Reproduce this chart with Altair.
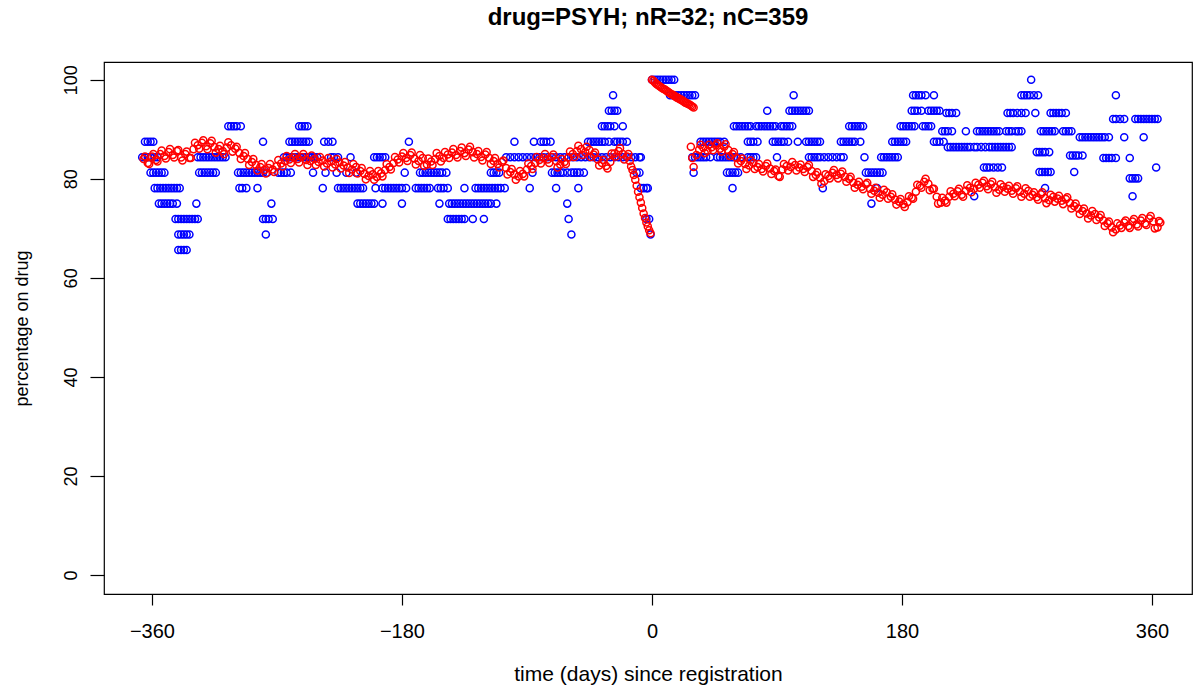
import altair as alt
import pandas as pd

TITLE = "drug=PSYH; nR=32; nC=359"
X_TITLE = "time (days) since registration"
Y_TITLE = "percentage on drug"
X_TICKS = [-360, -180, 0, 180, 360]
Y_TICKS = [0, 20, 40, 60, 80, 100]

# ---- blue series (nR): days at which each percentage level is observed ----
b100 = [0, 2, 4, 6, 8, 10, 12, 14, 16, 273]
b96_9 = [-28, 13, 15, 17, 19, 21, 23, 25, 27, 29, 31, 102, 188, 190, 192, 194, 197,
         203, 266, 268, 270, 272, 275, 278, 334]
b93_75 = [-31, -29, -27, -25, 83, 99, 101, 103, 105, 107, 109, 111, 113,
          187, 189, 191, 194, 199, 201, 203, 205, 207]
b93_3 = [212, 214, 216, 219, 256, 258, 260, 263, 266, 269, 276,
         287, 289, 291, 293, 295, 298]
b92_1 = [332, 334, 337, 340, 348, 350, 352, 354, 356, 358, 360, 362, 364]
b90_6 = [-305, -303, -301, -299, -296, -254, -252, -250, -248,
         -36, -34, -32, -30, -27, -21, 59, 61, 63, 65, 67, 69, 71,
         75, 77, 79, 81, 83, 85, 87, 89, 93, 95, 97, 99, 101,
         142, 144, 146, 148, 150, 152, 179, 181, 183, 185, 187, 189,
         195, 197, 199, 201]
b89_6 = [209, 211, 213, 216, 226, 234, 236, 238, 240, 242, 244, 246, 248, 250,
         255, 257, 259, 262, 264, 266, 280, 282, 284, 286, 288, 290,
         296, 298, 300, 302]
b88_4 = [308, 310, 312, 314, 316, 318, 320, 322, 324, 326, 329, 340, 354]
b87_5 = [-365, -363, -361, -359, -280, -261, -259, -257, -255, -253, -251, -249, -247,
         -236, -233, -230, -175, -99, -85, -80, -78, -76, -73,
         -46, -44, -42, -40, -38, -36, -34, -31, -27, -25, -23, -21, -18,
         35, 37, 39, 41, 43, 45, 47, 49, 52, 69, 71, 73, 76,
         87, 89, 91, 93, 95, 98, 105, 111, 113, 115, 117, 119, 121,
         136, 138, 140, 142, 144, 146, 150, 173, 175, 177, 179, 181, 183,
         203, 205, 207, 210]
b86_4 = [213, 215, 217, 219, 221, 223, 225, 227, 229, 232, 234, 237, 240,
         243, 245, 247, 249, 251, 253, 255, 257, 259]
b85_4 = [277, 279, 281, 283, 286]
b84_7 = [301, 303, 305, 307, 310]
b84_2 = [325, 327, 329, 331, 334, 344]
b84_4 = [-367, -365, -363, -361, -358, -356,
         -327, -325, -323, -321, -319, -317, -315, -313, -311, -309, -307,
         -265, -263, -261, -259, -257, -255, -253, -251, -249, -247, -245, -243, -241,
         -231, -229, -226, -217, -200, -198, -196, -194, -192,
         -105, -102, -99, -96, -93, -90, -87, -84, -81, -78, -75, -72, -69, -66,
         -63, -60, -57, -54, -51, -48, -45, -42, -39, -36, -33, -30, -27, -24,
         -21, -18, -15, -12, -9, -8,
         29, 31, 33, 35, 37, 39, 42, 47, 49, 51, 53, 55, 57, 59, 61, 64,
         69, 71, 73, 75, 90, 113, 115, 117, 119, 121, 124, 127, 130, 133, 136, 138,
         153, 165, 167, 169, 171, 173, 175, 177]
b82_3 = [239, 241, 243, 246, 249, 252, 363]
b81_4 = [279, 281, 283, 285, 287, 304]
b81_25 = [-361, -359, -357, -355, -353, -351,
          -326, -324, -322, -320, -318, -316, -314,
          -298, -296, -294, -292, -290, -288, -286, -284, -282, -280, -277,
          -269, -267, -265, -263, -260, -244, -235, -227, -220, -213, -178,
          -167, -165, -163, -161, -159, -157, -155, -153, -151, -148,
          -116, -114, -112, -110, -86, -72, -70, -68, -66, -64, -61,
          -58, -56, -54, -52, -49, -11, -9, 30, 54, 56, 58, 60, 62,
          154, 156, 158, 160, 162, 164, 166]
b80_1 = [344, 346, 348, 350]
b78_1 = [-358, -356, -354, -352, -350, -348, -346, -344, -342, -340,
         -297, -295, -292, -284, -237,
         -226, -224, -222, -220, -218, -216, -214, -212, -210, -208, -199,
         -194, -192, -190, -188, -186, -184, -182, -180, -177,
         -170, -168, -166, -164, -162, -160, -154, -152, -150, -147, -135,
         -127, -125, -123, -121, -119, -117, -115, -113, -111, -109, -106,
         -88, -69, -53, -8, -6, -4, -3, 58, 123, 162, 283]
b76_5 = [232, 346]
b75 = [-355, -353, -351, -349, -347, -345, -342, -328, -274,
       -212, -210, -208, -206, -204, -202, -200, -194, -180, -153,
       -146, -144, -142, -140, -138, -136, -134, -132, -130, -128, -126,
       -124, -122, -120, -118, -116, -112, -61, 158]
b71_9 = [-343, -341, -339, -337, -335, -333, -331, -329, -327,
         -280, -278, -276, -273, -147, -145, -143, -141, -139, -137, -135,
         -129, -121, -60, -4, -2]
b68_75 = [-341, -339, -337, -335, -333, -278, -58, -1]
b65_6 = [-341, -339, -337, -335]

blue_levels = [
    (100.0, b100), (96.875, b96_9), (93.75, b93_75), (93.3, b93_3), (92.1, b92_1),
    (90.625, b90_6), (89.6, b89_6), (88.4, b88_4), (87.5, b87_5), (86.4, b86_4),
    (85.4, b85_4), (84.7, b84_7), (84.2, b84_2), (84.375, b84_4), (82.3, b82_3),
    (81.4, b81_4), (81.25, b81_25), (80.1, b80_1), (78.125, b78_1), (76.5, b76_5),
    (75.0, b75), (71.875, b71_9), (68.75, b68_75), (65.625, b65_6),
]

# ---- red series (nC): (day, percentage) ----
red_pre = [
    (-366, 84.0), (-363, 83.2), (-360, 84.5), (-357, 83.8), (-354, 85.0), (-351, 84.6),
    (-348, 85.4), (-345, 84.8), (-342, 85.6), (-339, 84.3), (-336, 85.0), (-333, 84.2),
    (-330, 86.0), (-327, 86.8), (-324, 87.3), (-321, 86.6), (-318, 87.2), (-315, 86.4),
    (-312, 86.0), (-309, 85.6), (-306, 86.3), (-303, 86.8), (-300, 86.1), (-297, 85.2),
    (-294, 84.6), (-291, 84.0), (-288, 83.4), (-285, 82.8), (-282, 82.4), (-279, 81.8),
    (-276, 82.2), (-273, 81.9), (-270, 82.6), (-267, 83.1), (-264, 83.6), (-261, 83.9),
    (-258, 84.3), (-255, 84.0), (-252, 84.4), (-249, 83.8), (-246, 83.6), (-243, 84.0),
    (-240, 83.4), (-237, 83.7), (-234, 83.1), (-231, 83.5), (-228, 82.9), (-225, 83.3),
    (-222, 82.7), (-219, 82.3), (-216, 81.9), (-213, 82.4), (-210, 81.6), (-207, 81.0),
    (-204, 80.6), (-201, 80.9), (-198, 80.4), (-195, 81.1), (-192, 81.8), (-189, 82.4),
    (-186, 83.2), (-183, 83.9), (-180, 84.5), (-177, 84.2), (-174, 84.8), (-171, 84.1),
    (-168, 83.6), (-165, 84.2), (-162, 82.9), (-159, 83.5), (-156, 84.0), (-153, 84.6),
    (-150, 84.2), (-147, 84.9), (-144, 85.3), (-141, 84.8), (-138, 85.6), (-135, 85.2),
    (-132, 85.9), (-129, 85.4), (-126, 85.0), (-123, 84.4), (-120, 84.9), (-117, 84.2),
    (-114, 83.6), (-111, 83.0), (-108, 83.4), (-105, 82.2), (-102, 81.4), (-99, 80.9),
    (-96, 80.5), (-93, 81.0), (-90, 81.9), (-87, 82.6), (-84, 83.2), (-81, 83.8),
    (-78, 84.2), (-75, 83.9), (-72, 84.4), (-69, 83.6), (-66, 82.9), (-63, 83.4),
    (-60, 84.3), (-57, 85.0), (-54, 85.6), (-51, 86.0), (-48, 85.4), (-45, 85.8),
    (-42, 84.9), (-39, 83.9), (-36, 83.2), (-33, 82.6), (-30, 83.4), (-27, 85.1),
    (-24, 85.6), (-21, 85.0), (-18, 84.5), (-16, 83.6), (-15, 82.5), (-14, 81.8),
    (-13, 80.8), (-12, 79.8), (-11, 78.6), (-10, 77.4), (-9, 76.3), (-8, 75.2),
    (-7, 74.1), (-6, 73.0), (-5, 72.1), (-4, 71.2), (-3, 70.4), (-2, 69.6), (-1, 69.0),
]
red_pre_b = [
    (-365, 84.5), (-362, 83.0), (-359, 85.0), (-356, 83.5), (-353, 85.7), (-350, 84.1),
    (-347, 86.0), (-344, 84.3), (-341, 85.8), (-338, 83.7), (-335, 85.5), (-332, 84.2),
    (-329, 87.3), (-326, 86.1), (-323, 87.8), (-320, 86.0), (-317, 87.7), (-314, 85.3),
    (-311, 86.7), (-308, 85.0), (-305, 87.4), (-302, 85.5), (-299, 86.5), (-296, 84.0),
    (-293, 85.2), (-290, 82.8), (-287, 84.0), (-284, 81.7), (-281, 83.0), (-278, 81.1),
    (-275, 83.0), (-272, 81.4), (-269, 83.8), (-266, 82.5), (-263, 84.6), (-260, 83.2),
    (-257, 85.0), (-254, 83.3), (-251, 85.0), (-248, 82.8), (-245, 84.7), (-242, 82.8),
    (-239, 84.4), (-236, 82.5), (-233, 84.2), (-230, 82.3), (-227, 84.0), (-224, 82.1),
    (-221, 83.4), (-218, 81.2), (-215, 83.0), (-212, 81.1), (-209, 82.2), (-206, 79.9),
    (-203, 81.6), (-200, 79.8), (-197, 81.6), (-194, 80.5), (-191, 83.0), (-188, 81.9),
    (-185, 84.4), (-182, 83.3), (-179, 85.2), (-176, 83.6), (-173, 85.3), (-170, 82.9),
    (-167, 84.8), (-164, 82.6), (-161, 84.1), (-158, 82.8), (-155, 85.2), (-152, 83.5),
    (-149, 85.4), (-146, 84.2), (-143, 86.0), (-140, 84.3), (-137, 86.3), (-134, 84.6),
    (-131, 86.5), (-128, 84.3), (-125, 85.6), (-122, 83.7), (-119, 85.4), (-116, 83.0),
    (-113, 84.2), (-110, 82.3), (-107, 83.7), (-104, 80.9), (-101, 82.0), (-98, 79.8),
    (-95, 81.6), (-92, 80.5), (-89, 83.1), (-86, 82.0), (-83, 84.4), (-80, 83.1),
    (-77, 85.0), (-74, 83.2), (-71, 84.9), (-68, 82.3), (-65, 84.0), (-62, 83.0),
    (-59, 85.5), (-56, 84.4), (-53, 86.7), (-50, 84.8), (-47, 86.5), (-44, 84.4),
    (-41, 85.3), (-38, 82.7), (-35, 83.8), (-32, 82.1), (-29, 85.1), (-26, 84.5),
    (-23, 86.2), (-20, 83.9), (-17, 85.0),
]
red_high = [
    (0, 100.0), (1, 99.8), (2, 99.5), (3, 99.2), (4, 99.0), (5, 98.8), (6, 98.6),
    (7, 98.4), (8, 98.2), (9, 98.1), (10, 97.9), (11, 97.7), (12, 97.5), (13, 97.3),
    (14, 97.1), (15, 97.0), (16, 96.8), (17, 96.6), (18, 96.4), (19, 96.3), (20, 96.1),
    (21, 96.0), (22, 95.8), (23, 95.6), (24, 95.4), (25, 95.3), (26, 95.1), (27, 95.0),
    (28, 94.8), (29, 94.6), (30, 94.4),
]
red_post = [
    (28, 86.5), (29, 84.2), (30, 82.4), (32, 84.8), (34, 85.9), (37, 86.3), (40, 85.7),
    (43, 86.4), (46, 86.8), (49, 86.1), (52, 86.5), (55, 85.8), (58, 85.0), (61, 84.2),
    (64, 83.6), (67, 83.0), (70, 82.7), (73, 83.2), (76, 82.4), (79, 82.0), (82, 82.6),
    (85, 82.1), (88, 81.6), (91, 80.6), (94, 81.9), (97, 82.6), (100, 82.4), (103, 82.8),
    (106, 82.3), (109, 82.0), (112, 82.4), (115, 81.6), (118, 80.8), (121, 80.2),
    (124, 79.5), (127, 80.6), (130, 81.2), (133, 80.8), (136, 81.0), (139, 80.4),
    (142, 80.0), (145, 79.2), (148, 78.8), (151, 78.4), (154, 78.9), (157, 78.0),
    (160, 77.6), (163, 77.2), (166, 76.8), (169, 77.3), (172, 76.4), (175, 75.8),
    (178, 75.4), (181, 74.9), (184, 75.3), (187, 76.2), (190, 77.4), (193, 78.6),
    (196, 79.4), (199, 79.0), (202, 78.0), (205, 76.4), (208, 75.2), (211, 75.6),
    (214, 76.4), (217, 77.0), (220, 77.5), (223, 76.8), (226, 77.6), (229, 78.2),
    (232, 78.0), (235, 78.8), (238, 79.2), (241, 78.5), (244, 78.9), (247, 78.3),
    (250, 77.8), (253, 78.4), (256, 78.0), (259, 77.6), (262, 78.1), (265, 77.4),
    (268, 77.0), (271, 77.6), (274, 76.8), (277, 76.3), (280, 76.9), (283, 76.1),
    (286, 75.7), (289, 76.4), (292, 76.0), (295, 75.6), (298, 75.9), (301, 75.1),
    (304, 74.5), (307, 74.0), (310, 73.5), (313, 73.0), (316, 72.6), (319, 72.9),
    (322, 72.2), (325, 71.6), (328, 71.0), (331, 70.2), (334, 69.8), (337, 70.6),
    (340, 71.2), (343, 70.5), (346, 71.4), (349, 70.8), (352, 71.6), (355, 71.0),
    (358, 72.0), (361, 71.4), (364, 70.2), (366, 71.2),
]
red_post_b = [
    (35, 86.9), (38, 85.2), (41, 86.9), (44, 85.8), (47, 87.2), (50, 85.5), (53, 87.0),
    (56, 84.6), (59, 85.4), (62, 83.1), (65, 84.1), (68, 82.0), (71, 83.7), (74, 82.0),
    (77, 83.0), (80, 81.5), (83, 83.1), (86, 81.0), (89, 81.9), (92, 80.4), (95, 83.0),
    (98, 81.7), (101, 83.4), (104, 81.7), (107, 82.9), (110, 81.4), (113, 82.8),
    (116, 80.4), (119, 81.3), (122, 79.0), (125, 80.9), (128, 80.1), (131, 81.8),
    (134, 80.1), (137, 81.5), (140, 79.4), (143, 80.4), (146, 78.2), (149, 79.4),
    (152, 77.9), (155, 79.2), (158, 77.0), (161, 78.2), (164, 76.2), (167, 77.8),
    (170, 76.0), (173, 76.9), (176, 74.8), (179, 75.9), (182, 74.3), (185, 76.5),
    (188, 76.0), (191, 78.8), (194, 78.2), (197, 80.0), (200, 77.7), (203, 78.0),
    (206, 75.0), (209, 76.2), (212, 75.2), (215, 77.5), (218, 76.5), (221, 78.0),
    (224, 76.4), (227, 78.7), (230, 77.3), (233, 79.2), (236, 78.2), (239, 79.6),
    (242, 77.9), (245, 79.4), (248, 77.2), (251, 78.9), (254, 77.4), (257, 78.6),
    (260, 77.0), (263, 78.5), (266, 76.4), (269, 78.1), (272, 76.4), (275, 77.3),
    (278, 75.8), (281, 77.3), (284, 75.1), (287, 76.8), (290, 75.4), (293, 76.6),
    (296, 74.9), (299, 76.3), (302, 74.0), (305, 75.0), (308, 72.9), (311, 74.0),
    (314, 72.0), (317, 73.5), (320, 71.7), (323, 72.7), (326, 70.5), (329, 71.4),
    (332, 69.2), (335, 71.0), (338, 70.1), (341, 71.6), (344, 70.1), (347, 71.9),
    (350, 70.4), (353, 72.1), (356, 70.7), (359, 72.5), (362, 70.0), (365, 71.5),
]

blue_rows = [{"day": d, "pct": lvl} for lvl, days in blue_levels for d in days]
red_rows = [{"day": d, "pct": p}
            for seg in (red_pre, red_pre_b, red_high, red_post, red_post_b)
            for d, p in seg]
blue_df = pd.DataFrame(blue_rows)
red_df = pd.DataFrame(red_rows)

FONT = "Liberation Sans"

x_enc = alt.X(
    "day:Q",
    scale=alt.Scale(domain=[-394.5, 388.8], nice=False, zero=False),
    axis=alt.Axis(
        values=X_TICKS, title=X_TITLE, grid=False, domain=False,
        tickSize=11, tickWidth=1.2, tickColor="black",
        labelFont=FONT, labelFontSize=20, labelColor="black", labelPadding=16,
        labelFlush=False, labelOverlap=False,
        titleFont=FONT, titleFontSize=21, titleFontWeight="normal", titleColor="black",
        titleX=544, titleY=80, titleBaseline="middle", titleAlign="center",
    ),
)
y_enc = alt.Y(
    "pct:Q",
    scale=alt.Scale(domain=[-3.85, 103.6], nice=False, zero=False),
    axis=alt.Axis(
        values=Y_TICKS, title=Y_TITLE, grid=False, domain=False,
        tickSize=14, tickWidth=1.2, tickColor="black",
        labelFont=FONT, labelFontSize=18, labelColor="black",
        labelAngle=270, labelAlign="center", labelBaseline="alphabetic", labelPadding=14,
        labelFlush=False, labelOverlap=False,
        titleFont=FONT, titleFontSize=18, titleFontWeight="normal", titleColor="black",
        titleAngle=270, titleX=-82, titleY=266, titleBaseline="middle", titleAlign="center",
    ),
)

blue = alt.Chart(blue_df).mark_point(
    shape="circle", filled=False, size=50, strokeWidth=1.5, color="#0000FF", opacity=1
).encode(x=x_enc, y=y_enc)

red = alt.Chart(red_df).mark_point(
    shape="circle", filled=False, size=50, strokeWidth=1.5, color="#FF0000", opacity=1
).encode(x=x_enc, y=y_enc)

chart = alt.layer(blue, red).properties(
    width=1088,
    height=532,
    title=alt.TitleParams(
        text=TITLE, font=FONT, fontSize=24, fontWeight="bold", color="black",
        anchor="middle", baseline="alphabetic", offset=13,
    ),
    padding={"left": 104, "top": 62, "right": 2, "bottom": 95},
    autosize=alt.AutoSizeParams(type="none"),
).configure_view(stroke="black", strokeWidth=1.2)

chart.save("out.html", embed_options={"renderer": "svg", "actions": False})
